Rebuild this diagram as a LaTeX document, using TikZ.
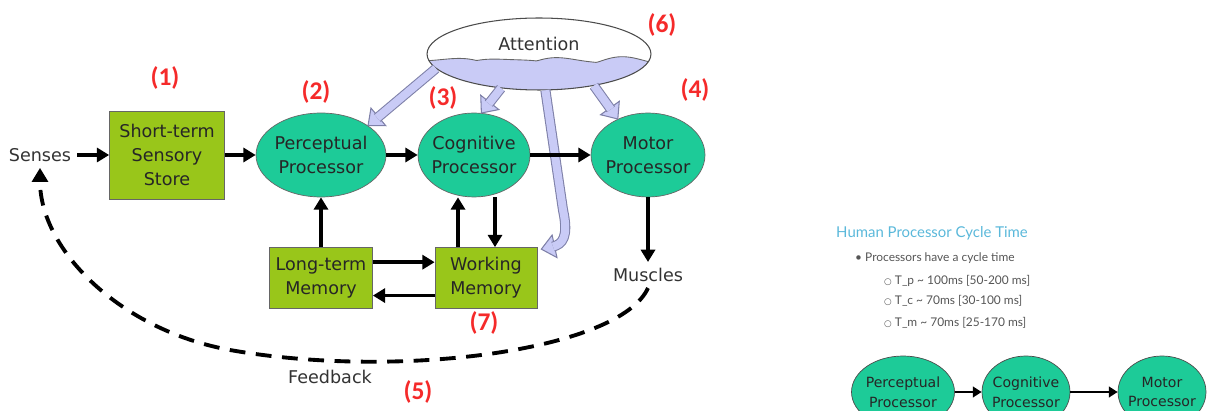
\documentclass[tikz,border=0pt]{standalone}
\usepackage{fontspec}
\setmainfont{DejaVu Sans}
\newfontfamily\tagfont{Carlito}
\newfontfamily\slidefont{Lato}
\usepackage{tikz}
\usetikzlibrary{positioning, arrows.meta, shapes.geometric, calc}
\definecolor{StoreGreen}{HTML}{99C61A}
\definecolor{ProcTeal}{HTML}{1DCB98}
\definecolor{AttnFill}{HTML}{C9CBF6}
\definecolor{AttnLine}{HTML}{7E80A8}
\definecolor{TagRed}{HTML}{F52A2A}
\definecolor{InkGray}{HTML}{333333}
\definecolor{SlideBlue}{HTML}{5AB8DA}
\definecolor{SlideGray}{HTML}{555555}

% fat attention arrows: head first, shaft over its base
\newcommand{\fathead}[2]{%
  \coordinate (fa-b) at ($(#2)!0.27cm!(#1)$);
  \filldraw[fathd] (#2) -- ($(fa-b)!0.23cm!90:(#2)$) -- ($(fa-b)!0.23cm!-90:(#2)$) -- cycle;
  \coordinate (fa-e) at ($(fa-b)!0.03cm!(#2)$);
}
\newcommand{\fatarrow}[2]{%
  \fathead{#1}{#2}
  \draw[fatshaft] (#1) -- (fa-e);
}

\begin{document}
\begin{tikzpicture}[x=0.02cm, y=-0.02cm,
    store/.style={draw=black!60, fill=StoreGreen, inner sep=0pt, align=center, text=black!85, font=\fontsize{10}{13.6}\selectfont},
    proc/.style={ellipse, draw=black!60, fill=ProcTeal, inner xsep=-2pt, inner ysep=0pt, minimum height=1.68cm, align=center, text=black!85, font=\fontsize{10}{13.6}\selectfont},
    lbl/.style={text=InkGray, font=\fontsize{10}{12}\selectfont},
    numtag/.style={text=TagRed, font=\tagfont\bfseries\fontsize{14.5}{14.5}\selectfont},
    arr/.style={-{Triangle[length=7pt,width=8pt]}, line width=2pt},
    fbline/.style={-{Triangle[length=8pt,width=9pt]}, line width=2.2pt, dash pattern=on 9pt off 6pt},
    attnshape/.style={ellipse, fill=white, inner sep=0pt, minimum width=4.48cm, minimum height=1.44cm},
    fathd/.style={draw=AttnLine, fill=AttnFill, line width=0.6pt},
    fatshaft/.style={draw=AttnLine, line width=0.6pt, double=AttnFill, double distance=0.16cm},
    slidehead/.style={text=SlideBlue, font=\slidefont\fontsize{8.5}{10}\selectfont},
    slidetxt/.style={text=SlideGray, font=\slidefont\fontsize{6.8}{8}\selectfont},
    mini/.style={ellipse, draw=black!70, fill=ProcTeal, inner xsep=-2pt, inner ysep=0pt, minimum height=1.44cm, align=center, text=black!85, font=\fontsize{8}{11.3}\selectfont},
    smallarr/.style={-{Triangle[length=5pt,width=6pt]}, line width=1.6pt}
]
\useasboundingbox (0,0) rectangle (1207,411);
\clip (0,0) rectangle (1207,411);

% Attention cloud
\node[attnshape] (attn) at (539,54) {};
\begin{scope}
  \clip (539,54) ellipse [x radius=2.24cm, y radius=0.72cm];
  \filldraw[fill=AttnFill, draw=black!60, line width=0.5pt] plot[domain=0:240, samples=121, smooth] (\x+420, {62-4*abs(sin(3*\x+10))+1.5*sin(5*\x)}) -- (660,100) -- (420,100) -- cycle;
\end{scope}
\draw[black!70, line width=0.6pt] (539,54) ellipse [x radius=2.24cm, y radius=0.72cm];
\node[lbl] (attntxt) at (539,44) {Attention};

% Stores and processors
\node[lbl] (sens) at (40,155) {Senses};
\node[store, minimum width=2.3cm, minimum height=1.76cm] (stss) at (167,155) {Short-term\\Sensory\\Store};
\node[proc, minimum width=2.6cm] (perc) at (321,155) {Perceptual\\Processor};
\node[proc, minimum width=2.24cm] (cog) at (474,155) {Cognitive\\Processor};
\node[proc, minimum width=2.28cm] (motor) at (648,155) {Motor\\Processor};
\node[lbl] (musc) at (648,275) {Muscles};
\node[store, minimum width=2.06cm, minimum height=1.22cm] (ltm) at (321,278) {Long-term\\Memory};
\node[store, minimum width=2.04cm, minimum height=1.22cm] (wm) at (486,278) {Working\\Memory};

% Attention arrows
\fatarrow{attn.188}{perc.32}
\fatarrow{attn.222}{cog.80}
\fatarrow{attn.330}{motor.130}
\coordinate (wmtip) at ($(wm.north east)+(4,2)$);
\fathead{556,246}{wmtip}
\draw[fatshaft] (attn.280) -- (563,210) .. controls (569,238) and (562,244) .. (fa-e);

% Information flow
\draw[arr] (sens) -- (stss);
\draw[arr] (stss) -- (perc);
\draw[arr] (perc) -- (cog);
\draw[arr] (cog) -- (motor);
\draw[arr] (motor) -- (musc);
\draw[arr] (ltm) -- (perc);
\draw[arr] ([yshift=9pt]ltm.east) -- ([yshift=9pt]wm.west);
\draw[arr] ([yshift=-10pt]wm.west) -- ([yshift=-10pt]ltm.east);
\draw[arr] ([xshift=-0.56cm]wm.north) -- ([xshift=-0.56cm]wm.north |- cog.south);
\draw[arr] ([xshift=0.18cm]wm.north |- cog.south) -- ([xshift=0.18cm]wm.north);

% Feedback loop
\coordinate (fbmid) at (230,350);
\draw[fbline] (musc.south) .. controls (620,350) and (400,380) .. (fbmid) .. controls (120,330) and (40,250) .. (sens.south);
\node[lbl] (fb) at (330,377) {Feedback};

% Numbers
\node[numtag] (t1) at (165,78) {(1)};
\node[numtag] (t2) at (316,92) {(2)};
\node[numtag] (t3) at (443,98) {(3)};
\node[numtag] (t4) at (695,90) {(4)};
\node[numtag] (t5) at (418,392) {(5)};
\node[numtag] (t6) at (662,25) {(6)};
\node[numtag] (t7) at (484,323) {(7)};

% Cycle time notes
\node[slidehead, anchor=west] (sh) at (830,233) {Human Processor Cycle Time};
\node[slidetxt, anchor=west] (sb) at (849,258) {\textbullet\ Processors have a cycle time};
\node[slidetxt, anchor=west] (st1) at (878,281) {{\rmfamily\fontsize{5}{5}\selectfont ○}\ T\_p \textasciitilde{} 100ms [50-200 ms]};
\node[slidetxt, anchor=west] (st2) at (878,301) {{\rmfamily\fontsize{5}{5}\selectfont ○}\ T\_c \textasciitilde{} 70ms [30-100 ms]};
\node[slidetxt, anchor=west] (st3) at (878,323) {{\rmfamily\fontsize{5}{5}\selectfont ○}\ T\_m \textasciitilde{} 70ms [25-170 ms]};

% Processor chain
\node[mini, minimum width=2.06cm] (pp) at (903,392) {Perceptual\\Processor};
\node[mini, minimum width=1.76cm] (pc) at (1026,392) {Cognitive\\Processor};
\node[mini, minimum width=1.76cm] (pm) at (1162,392) {Motor\\Processor};
\draw[smallarr] (pp) -- (pc);
\draw[smallarr] (pc) -- (pm);

\end{tikzpicture}
\end{document}
